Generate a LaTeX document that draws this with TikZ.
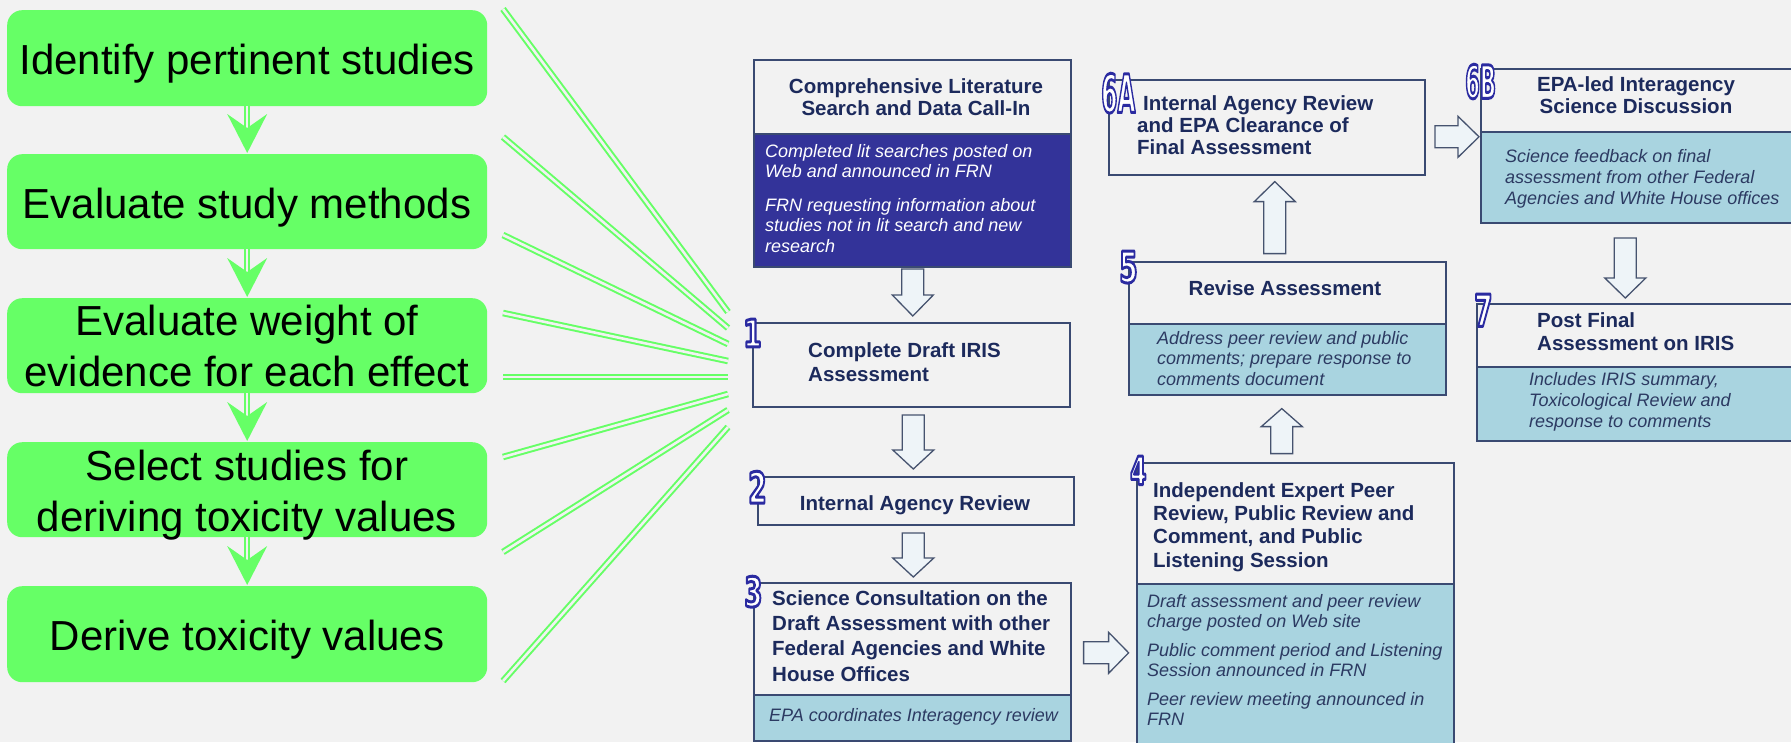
\documentclass[tikz,border=0pt]{standalone}
\usepackage{fontspec}
\setmainfont{Liberation Sans}
\newfontfamily\numfont{DejaVu Sans}
\usepackage{graphicx}
\usetikzlibrary{calc}
\definecolor{bgc}{HTML}{F2F2F2}
\definecolor{lgreen}{HTML}{66FF66}
\definecolor{boxedge}{HTML}{3A4A72}
\definecolor{hcol}{HTML}{1C2A5C}
\definecolor{bcol}{HTML}{2C3A62}
\definecolor{lblue}{HTML}{A9D4E0}
\definecolor{dblue}{HTML}{333399}
\definecolor{afill}{HTML}{EEF4F8}
\definecolor{aedge}{HTML}{46536F}
\newcommand\numlab[3]{\scalebox{#2}[1]{\numfont\bfseries\fontsize{#1}{#1}\selectfont\color{white}\special{pdf:literal direct 1 j 3 w 0.17 0.17 0.63 RG 2 Tr}#3\special{pdf:literal direct 0 Tr}}}
\newcommand\barrow[4]{\draw[barrow, shift={(#1)}, rotate=#2] (0,0) -- (-#3,20.5) -- (-#3,11) -- ({-#3-#4},11) -- ({-#3-#4},-11) -- (-#3,-11) -- (-#3,-20.5) -- cycle;}
\newcommand\ghead[1]{\fill[lgreen] ($(#1)+(0,1)$) -- ++(-20,39) -- ++(20,-14) -- ++(20,14) -- cycle;}
\begin{document}
\begin{tikzpicture}[x=1pt,y=1pt,
 gbox/.style={fill=lgreen, rounded corners=15pt, inner sep=0pt, anchor=north west},
 gtext/.style={font=\fontsize{42}{51}\selectfont, text=black, inner sep=0pt, align=center},
 gline/.style={draw=lgreen, line width=2pt, double=bgc, double distance=2.6pt},
 gshaft/.style={draw=lgreen, line width=2pt, double=bgc, double distance=2pt},
 ibox/.style={draw=boxedge, line width=1.6pt, fill=bgc, inner sep=0pt, anchor=north west},
 bodybox/.style={ibox, fill=lblue},
 htext/.style={font=\fontsize{20.5}{22}\selectfont\bfseries, text=hcol, inner sep=0pt, align=left},
 btext/.style={font=\fontsize{18}{20.5}\selectfont\itshape, text=bcol, inner sep=0pt, align=left, anchor=north west},
 barrow/.style={draw=aedge, fill=afill, line width=1.3pt},
 numl/.style={inner sep=0pt, anchor=north west}]
\useasboundingbox (0,0) rectangle (1791,-742);
\clip (0,0) rectangle (1791,-742);
\fill[bgc] (0,0) rectangle (1791,-742);

% left green column
\node[gbox, minimum width=480, minimum height=96] (g1) at (7,-10) {};
\node[gbox, minimum width=480, minimum height=95] (g2) at (7,-154) {};
\node[gbox, minimum width=480, minimum height=95] (g3) at (7,-298) {};
\node[gbox, minimum width=480, minimum height=95] (g4) at (7,-442) {};
\node[gbox, minimum width=480, minimum height=96] (g5) at (7,-586) {};
\node[gtext, anchor=base] (gt1) at (247,-74) {Identify pertinent studies};
\node[gtext, anchor=base] (gt2) at (247,-218) {Evaluate study methods};
\node[gtext, anchor=north] (gt3) at (247,-304.8) {Evaluate weight of\\evidence for each effect};
\node[gtext, anchor=north] (gt4) at (247,-449.8) {Select studies for\\deriving toxicity values};
\node[gtext, anchor=base] (gt5) at (247,-650) {Derive toxicity values};
\foreach \a/\b in {g1/g2,g2/g3,g3/g4,g4/g5}{
  \draw[gshaft] (\a.south) -- ++(0,-24);
  \ghead{\b.north}
}

% fan of green double lines
\foreach \i/\sy/\ey in {1/9/312,2/137/328,3/235/344,4/313/361,5/377/377,6/457/394,7/552/410,8/681/427}{
  \coordinate (s\i) at (503,-\sy);
  \coordinate (e\i) at (728,-\ey);
  \draw[gline] (s\i) -- (e\i);
}

% boxes
\node[ibox, minimum width=317, minimum height=207] (c) at (753,-59) {};
\node[ibox, fill=dblue, minimum width=317, minimum height=133] (cbody) at (753,-133) {};
\node[ibox, minimum width=317, minimum height=84] (b1) at (752,-322) {};
\node[ibox, minimum width=316, minimum height=48] (b2) at (757,-476) {};
\node[ibox, minimum width=317, minimum height=158] (b3) at (753,-582) {};
\node[bodybox, minimum width=317, minimum height=46] (b3body) at (753,-694) {};
\node[ibox, minimum width=317, minimum height=290] (b4) at (1136,-462) {};
\node[bodybox, minimum width=317, minimum height=169] (b4body) at (1136,-583) {};
\node[ibox, minimum width=317, minimum height=133] (b5) at (1128,-261) {};
\node[bodybox, minimum width=317, minimum height=71] (b5body) at (1128,-323) {};
\node[ibox, minimum width=316, minimum height=95] (b6a) at (1108,-79) {};
\node[ibox, minimum width=318, minimum height=154] (b6b) at (1480,-68) {};
\node[bodybox, minimum width=318, minimum height=91] (b6bbody) at (1480,-131) {};
\node[ibox, minimum width=322, minimum height=137] (b7) at (1476,-303) {};
\node[bodybox, minimum width=322, minimum height=74] (b7body) at (1476,-366) {};

% block arrows
\barrow{$(b1.north)+(1.5,6)$}{-90}{21}{26}
\barrow{$(b2.north)+(-2.5,7)$}{-90}{19}{35}
\barrow{$(b3.north)+(1,5)$}{-90}{19}{25}
\barrow{$(b3.east)+(57,9)$}{0}{20}{25}
\barrow{$(b5.south)+(-5.5,-13)$}{90}{18}{27}
\barrow{$(b6a.south)+(8,-6)$}{90}{20}{52}
\barrow{$(b6b.west)+(-1,9)$}{0}{21}{23}
\barrow{$(b7.north)+(-12.5,5)$}{-90}{20}{40}

% texts
\node[htext, align=center, anchor=north] (ct) at (916,-78.2) {Comprehensive Literature\\Search and Data Call-In};
\node[btext, text=white] (cb) at (765,-144) {Completed lit searches posted on\\Web and announced in FRN\\[13pt]FRN requesting information about\\studies not in lit search and new\\research};
\node[htext, font=\fontsize{20.5}{24}\selectfont\bfseries, anchor=north west] (t1) at (808,-342.2) {Complete Draft IRIS\\Assessment};
\node[htext, anchor=base] (t2) at (915,-510) {Internal Agency Review};
\node[htext, font=\fontsize{20.5}{25.3}\selectfont\bfseries, anchor=north west] (t3) at (772,-590.2) {Science Consultation on the\\Draft Assessment with other\\Federal Agencies and White\\House Offices};
\node[btext, anchor=base west] (t3b) at (769,-721) {EPA coordinates Interagency review};
\node[htext, font=\fontsize{20.5}{23.3}\selectfont\bfseries, anchor=north west] (t4) at (1153,-482.2) {Independent Expert Peer\\Review, Public Review and\\Comment, and Public\\Listening Session};
\node[btext] (t4b) at (1147,-594) {Draft assessment and peer review\\charge posted on Web site\\[8pt]Public comment period and Listening\\Session announced in FRN\\[8pt]Peer review meeting announced in\\FRN};
\node[htext, anchor=base] (t5) at (1285,-295) {Revise Assessment};
\node[btext] (t5b) at (1157,-331) {Address peer review and public\\comments; prepare response to\\comments document};
\node[htext, anchor=north west] (t6a) at (1137,-95.2) {\hspace*{6pt}Internal Agency Review\\and EPA Clearance of\\Final Assessment};
\node[htext, align=center, anchor=north] (t6b) at (1636,-76.2) {EPA-led Interagency\\Science Discussion};
\node[btext, font=\fontsize{18}{21}\selectfont\itshape] (t6bb) at (1505,-149) {Science feedback on final\\assessment from other Federal\\Agencies and White House offices};
\node[htext, font=\fontsize{20.5}{23}\selectfont\bfseries, anchor=north west] (t7) at (1537,-312.2) {Post Final\\Assessment on IRIS};
\node[btext, font=\fontsize{18}{21}\selectfont\itshape] (t7b) at (1529,-372) {Includes IRIS summary,\\Toxicological Review and\\response to comments};

% number labels
\node[numl] (n1) at (743,-319) {\numlab{38}{0.7}{1}};
\node[numl] (n2) at (748,-471) {\numlab{43}{0.62}{2}};
\node[numl] (n3) at (744,-576) {\numlab{41}{0.64}{3}};
\node[numl] (n4) at (1130,-456) {\numlab{39}{0.6}{4}};
\node[numl] (n5) at (1119,-251) {\numlab{43}{0.62}{5}};
\node[numl] (n6a) at (1101,-73) {\numlab{53}{0.44}{6A}};
\node[numl] (n6b) at (1465,-64) {\numlab{46}{0.46}{6B}};
\node[numl] (n7) at (1474,-294) {\numlab{44}{0.6}{7}};
\end{tikzpicture}
\end{document}
